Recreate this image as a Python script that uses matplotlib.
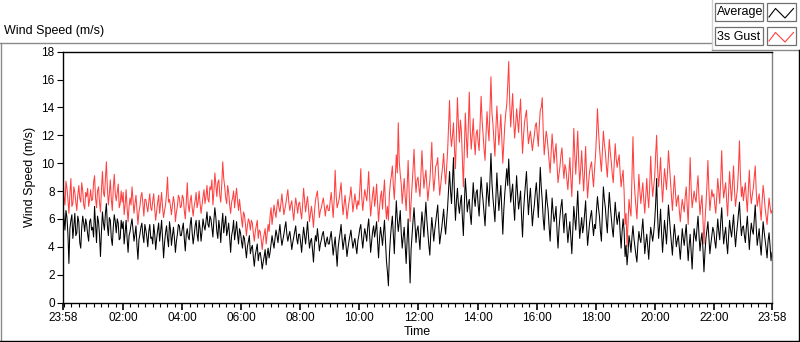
'''
wind speed chart: 24 h of 2-min average and 3 s gust
'''

import numpy as np
import matplotlib
matplotlib.use('Agg')
import matplotlib.pyplot as plt
from matplotlib.patches import Rectangle
from matplotlib.lines import Line2D

'''
--------------------> DATA <----------------------------
'''

# one value every 2 minutes, 30 values per hour, starting 23:58
average = [
    7.0, 6.1, 5.2, 6.6, 6.1, 4.9, 2.8, 5.3, 5.9, 6.3, 4.6, 5.5, 6.4, 4.8, 5.0, 6.2, 5.8, 4.3, 3.9, 5.4, 6.2, 5.7, 5.1, 6.0, 5.6, 4.9, 4.4, 5.8, 6.0, 5.2,
    5.4, 4.7, 6.9, 5.6, 4.3, 6.2, 5.8, 4.9, 3.3, 5.1, 6.5, 5.7, 5.2, 6.4, 7.1, 5.5, 4.8, 6.1, 5.9, 4.6, 4.1, 5.4, 6.3, 5.8, 5.0, 6.0, 5.7, 4.5, 4.6, 5.9,
    5.3, 5.8, 4.2, 5.0, 5.9, 4.6, 3.6, 4.8, 5.1, 5.6, 6.0, 5.2, 4.4, 4.9, 5.5, 4.1, 3.1, 4.5, 4.9, 5.4, 5.7, 4.8, 4.3, 5.6, 5.2, 4.7, 4.0, 5.1, 5.6, 4.6,
    4.7, 4.2, 5.6, 4.9, 3.8, 4.6, 5.2, 5.7, 4.4, 5.1, 5.9, 4.5, 3.2, 4.3, 5.0, 5.5, 4.6, 4.0, 5.8, 5.2, 4.1, 4.8, 5.4, 4.6, 3.6, 4.4, 4.9, 5.6, 5.5, 4.8,
    4.8, 5.3, 5.7, 4.6, 3.7, 4.9, 5.3, 4.7, 4.5, 5.6, 6.1, 5.0, 4.2, 4.8, 5.5, 5.9, 4.9, 4.4, 5.9, 5.3, 4.4, 5.1, 6.0, 5.5, 5.2, 5.8, 6.5, 5.6, 5.4, 6.2,
    6.0, 5.4, 4.7, 5.9, 6.8, 6.1, 5.1, 4.6, 5.9, 5.3, 4.3, 5.6, 6.4, 5.0, 5.6, 6.2, 4.8, 5.2, 5.7, 4.6, 3.6, 4.8, 5.2, 5.9, 4.5, 5.1, 5.8, 4.9, 4.2, 5.3,
    5.0, 4.4, 3.9, 4.8, 4.6, 3.9, 3.2, 4.0, 4.4, 4.8, 3.5, 3.9, 4.1, 3.3, 2.6, 3.4, 3.8, 4.2, 3.0, 3.5, 3.6, 3.1, 2.4, 2.9, 3.3, 3.8, 2.7, 3.4, 3.9, 3.2,
    3.6, 4.2, 4.8, 4.3, 3.9, 4.6, 5.2, 4.8, 4.3, 5.0, 5.6, 4.7, 4.1, 4.5, 4.9, 5.4, 5.8, 4.9, 4.4, 4.8, 5.1, 4.5, 3.8, 4.3, 4.7, 5.1, 5.5, 4.6, 4.2, 4.9,
    4.9, 4.3, 3.6, 4.6, 5.4, 4.8, 4.2, 5.0, 5.8, 4.7, 3.9, 4.4, 4.6, 3.8, 2.9, 4.1, 4.8, 4.4, 5.3, 4.6, 3.7, 4.2, 4.5, 4.9, 5.1, 4.5, 4.0, 4.4, 4.7, 4.2,
    4.2, 4.7, 5.1, 4.2, 3.4, 4.1, 4.7, 3.7, 2.6, 3.9, 4.5, 5.0, 5.6, 4.6, 3.8, 4.4, 4.9, 4.1, 3.3, 3.9, 4.4, 4.8, 5.2, 4.5, 3.9, 4.3, 4.6, 4.0, 3.5, 4.4,
    4.8, 5.3, 5.6, 4.6, 3.9, 4.7, 5.3, 4.9, 4.4, 5.4, 6.0, 4.8, 3.6, 4.4, 5.1, 5.5, 4.7, 5.2, 5.8, 4.4, 3.2, 4.6, 5.4, 4.8, 4.1, 5.0, 5.9, 4.5, 3.0, 2.2,
    1.2, 3.4, 4.6, 5.5, 6.2, 4.8, 3.5, 5.6, 7.3, 6.0, 5.1, 5.8, 6.6, 5.0, 3.9, 4.7, 5.4, 4.1, 2.8, 4.5, 6.0, 3.6, 1.4, 3.8, 4.9, 5.9, 6.8, 5.5, 4.3, 5.2,
    5.5, 4.6, 3.8, 5.4, 6.5, 5.7, 4.7, 6.1, 7.2, 5.9, 5.0, 4.1, 3.4, 5.0, 6.1, 5.3, 4.4, 5.2, 5.8, 6.4, 7.0, 5.5, 4.2, 4.8, 5.3, 6.0, 6.7, 5.6, 4.9, 5.8,
    6.8, 8.1, 9.4, 8.0, 7.1, 8.8, 10.4, 7.6, 5.9, 7.3, 8.2, 7.0, 6.4, 7.2, 7.7, 6.1, 4.8, 7.0, 8.9, 7.8, 6.5, 7.1, 7.4, 6.3, 5.6, 7.2, 8.6, 7.5, 6.9, 7.9,
    8.1, 7.0, 6.2, 7.7, 9.0, 8.0, 7.3, 6.4, 5.5, 7.1, 8.6, 7.7, 6.9, 8.8, 10.7, 8.6, 7.5, 6.7, 5.8, 7.6, 9.3, 7.8, 6.6, 7.5, 8.4, 6.7, 4.9, 6.6, 7.8, 8.7,
    9.6, 8.4, 10.3, 8.6, 7.2, 7.9, 8.5, 7.0, 5.9, 7.6, 9.1, 7.8, 6.7, 7.3, 8.0, 6.2, 4.7, 6.5, 7.6, 8.5, 9.4, 7.7, 6.3, 7.4, 8.2, 6.8, 5.5, 6.4, 7.0, 7.9,
    8.6, 7.5, 6.1, 7.8, 9.7, 8.3, 7.3, 6.0, 5.2, 6.7, 8.1, 7.2, 6.6, 5.4, 4.4, 6.0, 7.5, 6.5, 5.8, 6.2, 6.9, 5.1, 3.9, 5.3, 6.2, 6.9, 7.4, 6.1, 5.0, 6.3,
    6.4, 5.3, 4.3, 5.1, 5.8, 4.6, 3.5, 5.2, 6.9, 6.0, 5.2, 6.6, 8.0, 6.1, 4.6, 5.4, 6.1, 5.0, 5.5, 6.4, 7.3, 5.5, 4.1, 4.9, 5.7, 6.2, 6.6, 5.6, 4.8, 5.6,
    5.3, 6.6, 7.6, 6.8, 6.2, 5.1, 4.4, 6.5, 8.3, 7.4, 6.8, 5.8, 5.0, 6.6, 7.9, 6.9, 6.1, 5.3, 4.7, 6.0, 7.2, 6.3, 5.6, 6.1, 6.5, 5.0, 3.9, 5.1, 6.0, 5.2,
    3.3, 4.1, 2.7, 3.6, 4.8, 4.3, 3.6, 4.7, 5.5, 4.6, 4.0, 3.4, 2.9, 4.2, 5.1, 4.6, 4.3, 5.2, 6.0, 4.7, 3.5, 4.3, 4.9, 4.0, 3.1, 4.4, 5.4, 4.9, 4.4, 5.0,
    5.8, 7.1, 8.9, 6.2, 4.6, 5.5, 6.7, 5.0, 3.6, 4.8, 5.9, 5.1, 4.2, 5.6, 7.0, 6.0, 5.1, 4.2, 3.4, 4.7, 5.6, 4.8, 4.0, 4.5, 4.8, 3.9, 3.1, 4.2, 5.3, 4.6,
    4.1, 4.9, 5.6, 4.2, 3.0, 4.1, 4.9, 3.6, 2.4, 4.0, 5.3, 4.8, 4.4, 5.4, 6.2, 4.8, 3.7, 4.5, 5.0, 3.8, 2.2, 3.6, 4.6, 5.2, 5.8, 4.6, 3.5, 4.2, 4.8, 5.4,
    5.1, 4.4, 3.9, 5.0, 6.0, 5.1, 4.5, 5.8, 6.8, 5.3, 4.2, 4.9, 5.4, 4.3, 3.5, 4.8, 5.9, 5.2, 4.7, 5.5, 6.3, 5.0, 4.0, 4.9, 5.6, 6.4, 7.2, 5.8, 4.8, 5.4,
    5.5, 4.8, 4.3, 5.4, 6.2, 5.0, 3.8, 4.9, 5.7, 5.2, 4.9, 6.0, 7.0, 5.4, 4.1, 4.7, 5.3, 4.2, 3.4, 4.6, 5.8, 5.1, 4.5, 3.9, 3.2, 4.4, 5.0, 4.1, 3.0, 3.6,
]

gust = [
    9.3, 7.6, 7.0, 8.7, 8.2, 7.4, 6.4, 7.8, 8.9, 6.9, 7.1, 8.3, 7.9, 7.2, 6.6, 7.7, 8.4, 7.5, 7.2, 8.6, 8.0, 7.0, 6.7, 7.9, 7.6, 8.2, 6.9, 7.4, 8.1, 7.3,
    7.4, 8.6, 9.1, 7.5, 6.8, 8.0, 8.3, 7.2, 6.5, 8.1, 9.4, 7.9, 7.6, 8.9, 10.1, 8.2, 7.0, 7.8, 8.8, 7.4, 6.6, 8.2, 9.2, 7.8, 7.3, 7.9, 8.5, 6.8, 7.1, 8.0,
    7.2, 7.9, 6.3, 7.0, 8.1, 6.8, 5.8, 6.9, 7.5, 7.0, 8.3, 7.3, 6.4, 7.1, 7.7, 6.6, 5.6, 6.5, 6.9, 7.6, 7.9, 7.1, 6.2, 7.4, 7.4, 6.9, 6.5, 7.2, 7.8, 6.8,
    6.6, 7.3, 7.8, 6.7, 5.9, 6.6, 7.2, 7.7, 6.4, 7.1, 7.9, 6.8, 6.1, 6.6, 7.0, 7.8, 9.0, 7.2, 7.4, 6.9, 6.3, 7.0, 7.6, 7.1, 5.8, 6.5, 6.9, 7.7, 7.5, 6.8,
    6.9, 7.7, 7.5, 6.6, 6.0, 7.2, 8.6, 7.0, 6.5, 7.3, 7.7, 6.8, 6.2, 6.9, 7.3, 7.9, 6.8, 7.2, 8.0, 7.1, 6.4, 7.0, 7.6, 8.1, 7.1, 7.6, 8.4, 7.4, 7.2, 8.3,
    8.1, 8.8, 7.0, 7.9, 9.3, 8.4, 7.6, 8.6, 8.8, 7.7, 7.2, 8.5, 10.1, 8.9, 8.3, 7.5, 7.1, 8.4, 7.9, 7.0, 6.4, 7.2, 7.5, 8.0, 6.8, 7.6, 8.2, 7.3, 6.6, 7.4,
    6.7, 6.0, 5.4, 6.5, 6.3, 5.6, 4.8, 5.5, 6.0, 5.8, 5.2, 5.9, 5.7, 5.0, 4.4, 5.1, 5.5, 5.9, 4.6, 5.2, 5.1, 4.5, 3.8, 4.5, 4.9, 5.3, 4.2, 4.9, 5.6, 5.1,
    6.2, 6.8, 5.6, 6.3, 7.0, 6.5, 6.1, 6.9, 7.4, 6.8, 6.5, 7.1, 7.8, 7.0, 6.3, 6.7, 7.1, 7.6, 8.1, 7.2, 6.6, 7.0, 7.3, 6.5, 5.9, 6.8, 7.5, 7.0, 6.4, 7.1,
    7.2, 6.5, 6.0, 7.0, 8.2, 7.3, 6.5, 7.1, 7.6, 6.7, 5.8, 6.4, 6.9, 6.2, 5.4, 6.5, 7.3, 7.7, 8.0, 7.0, 6.1, 6.6, 6.8, 7.2, 7.5, 6.9, 6.2, 6.8, 7.0, 6.6,
    6.6, 7.3, 7.9, 7.0, 6.1, 7.4, 9.5, 7.7, 6.8, 7.1, 7.4, 8.0, 8.6, 7.3, 6.3, 7.0, 7.7, 6.9, 6.0, 6.6, 7.2, 7.6, 8.3, 7.4, 6.5, 7.1, 7.8, 7.2, 6.7, 7.3,
    7.0, 8.1, 9.6, 7.5, 6.6, 7.4, 8.1, 7.7, 7.3, 8.2, 9.4, 7.6, 6.2, 7.0, 7.8, 8.3, 6.9, 7.5, 8.5, 7.2, 5.8, 6.8, 7.6, 8.0, 6.7, 7.7, 8.8, 7.1, 6.0, 6.9,
    5.9, 7.7, 8.6, 9.1, 9.8, 8.4, 7.4, 9.0, 10.6, 9.3, 12.9, 10.1, 9.2, 8.5, 7.1, 8.0, 8.9, 7.6, 6.6, 8.3, 10.2, 8.1, 5.8, 7.2, 8.4, 9.6, 11.0, 9.1, 7.9, 8.8,
    9.0, 8.2, 7.6, 9.3, 10.9, 9.4, 8.2, 8.9, 9.5, 8.4, 7.3, 8.1, 8.7, 10.0, 11.5, 9.2, 8.0, 8.8, 9.8, 9.9, 10.4, 8.9, 7.7, 8.4, 9.1, 9.8, 10.7, 9.4, 8.5, 9.6,
    10.8, 12.6, 14.5, 12.1, 11.2, 12.0, 12.9, 11.0, 9.6, 12.2, 14.7, 12.8, 11.5, 13.1, 12.3, 10.2, 8.3, 11.1, 13.6, 11.9, 10.4, 12.6, 15.1, 12.4, 11.0, 12.0, 13.2, 11.6, 10.6, 12.1,
    12.4, 11.5, 10.9, 12.9, 14.8, 13.1, 12.0, 11.0, 10.2, 12.1, 13.7, 12.5, 11.6, 13.9, 16.2, 13.6, 12.8, 11.7, 10.5, 12.5, 14.1, 12.6, 11.3, 12.3, 13.5, 11.8, 10.0, 11.4, 12.7, 13.6,
    14.2, 15.6, 17.3, 14.4, 12.6, 13.8, 15.0, 13.1, 11.8, 12.7, 13.9, 13.0, 12.2, 13.5, 14.6, 12.5, 10.7, 11.9, 12.9, 13.4, 13.8, 12.5, 11.4, 11.9, 12.3, 11.6, 10.9, 11.5, 12.0, 12.7,
    12.9, 12.0, 11.2, 12.7, 13.8, 14.0, 14.7, 12.3, 10.6, 11.5, 12.3, 11.8, 11.0, 10.1, 9.3, 10.7, 12.1, 11.0, 10.0, 10.8, 11.4, 9.9, 8.6, 9.2, 9.8, 10.6, 11.1, 9.8, 8.9, 9.9,
    9.6, 8.8, 8.1, 9.2, 10.4, 8.9, 7.6, 9.7, 12.5, 10.6, 9.2, 10.8, 12.3, 10.1, 8.5, 9.6, 10.9, 9.3, 8.0, 9.5, 11.2, 9.0, 7.5, 8.6, 9.4, 9.8, 10.1, 9.1, 8.3, 9.5,
    10.5, 12.0, 13.9, 12.4, 11.2, 10.2, 9.4, 10.9, 12.3, 11.4, 10.8, 9.8, 9.0, 10.4, 11.7, 10.8, 10.1, 9.2, 8.6, 10.0, 11.4, 10.3, 9.7, 10.2, 10.6, 9.3, 8.3, 9.0, 9.5, 8.0,
    5.6, 6.4, 4.0, 5.7, 7.4, 6.7, 6.2, 8.9, 11.9, 9.0, 7.8, 6.9, 6.0, 7.6, 9.2, 8.0, 7.1, 7.9, 8.6, 7.3, 6.4, 7.7, 8.9, 7.6, 6.8, 8.4, 10.5, 8.7, 7.6, 8.3,
    9.0, 10.6, 12.0, 9.6, 8.3, 9.2, 10.4, 8.6, 7.2, 8.4, 9.6, 8.9, 8.1, 9.3, 10.9, 9.8, 8.7, 7.5, 6.6, 7.9, 9.1, 8.0, 6.9, 7.4, 7.7, 6.6, 5.8, 6.7, 7.4, 6.9,
    6.5, 7.6, 8.3, 6.9, 5.6, 7.8, 10.4, 8.2, 6.8, 7.4, 8.0, 7.5, 7.2, 8.3, 9.1, 7.5, 6.3, 7.1, 7.7, 6.0, 4.2, 5.8, 7.0, 8.4, 10.2, 8.1, 6.6, 7.4, 8.1, 7.6,
    7.8, 7.0, 6.4, 7.7, 8.9, 8.0, 7.1, 8.8, 10.9, 8.6, 7.5, 8.1, 8.6, 7.3, 6.2, 7.9, 9.4, 8.2, 7.3, 8.5, 9.8, 8.0, 6.9, 7.6, 8.2, 9.6, 11.6, 9.0, 7.6, 8.3,
    7.3, 8.0, 8.6, 7.4, 6.5, 8.1, 9.5, 7.9, 7.1, 7.7, 8.2, 9.0, 9.8, 8.0, 6.9, 7.4, 7.8, 6.7, 5.9, 7.3, 8.4, 7.7, 6.8, 6.2, 5.6, 6.6, 7.5, 6.9, 6.4, 6.6,
]

tick_minutes = [0, 122, 242, 362, 482, 602, 722, 842, 962, 1082, 1202, 1322, 1440]
tick_labels = ['23:58', '02:00', '04:00', '06:00', '08:00', '10:00', '12:00',
               '14:00', '16:00', '18:00', '20:00', '22:00', '23:58']
series_names = ['Average', '3s Gust']

assert len(average) == 720 and len(gust) == 720, (len(average), len(gust))

'''
--------------------> PLOT <----------------------------
'''

plt.rcParams['font.family'] = ['Liberation Sans', 'DejaVu Sans']

red = '#ff4040'
W, H = 800, 342

minutes = np.linspace(0, 1440, len(average))

fig = plt.figure(figsize=(8, 3.42), dpi=100)
ax = fig.add_axes([63 / W, 1 - 302.5 / H, (772 - 63) / W, (302.5 - 51.7) / H])

ax.plot(minutes, gust, color=red, lw=0.75)
ax.plot(minutes, average, color='black', lw=0.75)

ax.set_xlim(0, 1440)
ax.set_ylim(0, 18)
ax.set_yticks(range(0, 19, 2))
ax.set_xticks(tick_minutes)
ax.set_xticklabels(tick_labels)
ax.set_xticks(np.arange(2, 1440, 15), minor=True)
ax.tick_params(axis='both', labelsize=8.5, direction='out', colors='black', pad=2)
ax.tick_params(axis='x', which='major', length=5, width=1.2)
ax.tick_params(axis='x', which='minor', length=3, width=0.8)
ax.tick_params(axis='y', length=4, width=0.8)

for side in ['left', 'top', 'bottom']:
    ax.spines[side].set_color('black')
    ax.spines[side].set_linewidth(1.0)
ax.spines['right'].set_color('#808080')
ax.spines['right'].set_linewidth(1.0)

ax.set_xlabel('Time', fontsize=9, labelpad=1)
ax.set_ylabel('Wind Speed (m/s)', fontsize=9, labelpad=4)

# chart title and panel frame lines
fig.text(4 / W, 1 - 31 / H, 'Wind Speed (m/s)', fontsize=9, va='center', ha='left')


def px_line(x0, y0, x1, y1, color, lw=1.0):
    fig.add_artist(Line2D([x0 / W, x1 / W], [1 - y0 / H, 1 - y1 / H],
                          color=color, lw=lw, transform=fig.transFigure))


px_line(0, 43, 712, 43, '#8a8a8a')
px_line(712, 0, 712, 49.5, '#d0d0d0')
px_line(712, 49.5, 800, 49.5, '#8a8a8a')
px_line(1, 43, 1, 341, '#8a8a8a')
px_line(0, 340.5, 799, 340.5, 'black')
px_line(798.5, 49.5, 798.5, 341, 'black')

# legend boxes
for i, (name, col) in enumerate(zip(series_names, ['black', red])):
    top = 3.5 + i * 24
    fig.add_artist(Rectangle((715 / W, 1 - (top + 17.5) / H), 48 / W, 17.5 / H,
                             facecolor='white', edgecolor='#707070', lw=0.9,
                             transform=fig.transFigure))
    fig.text(717 / W, 1 - (top + 9) / H, name, fontsize=9, va='center', ha='left')
    fig.add_artist(Rectangle((767 / W, 1 - (top + 17.5) / H), 29 / W, 17.5 / H,
                             facecolor='white', edgecolor='#707070', lw=0.9,
                             transform=fig.transFigure))
    zx = [769, 775.5, 785, 793.5]
    zy = [top + 13.5, top + 5, top + 14.5, top + 5]
    fig.add_artist(Line2D([x / W for x in zx], [1 - y / H for y in zy],
                          color=col, lw=0.8, transform=fig.transFigure))

plt.savefig('out.png', dpi=100)
